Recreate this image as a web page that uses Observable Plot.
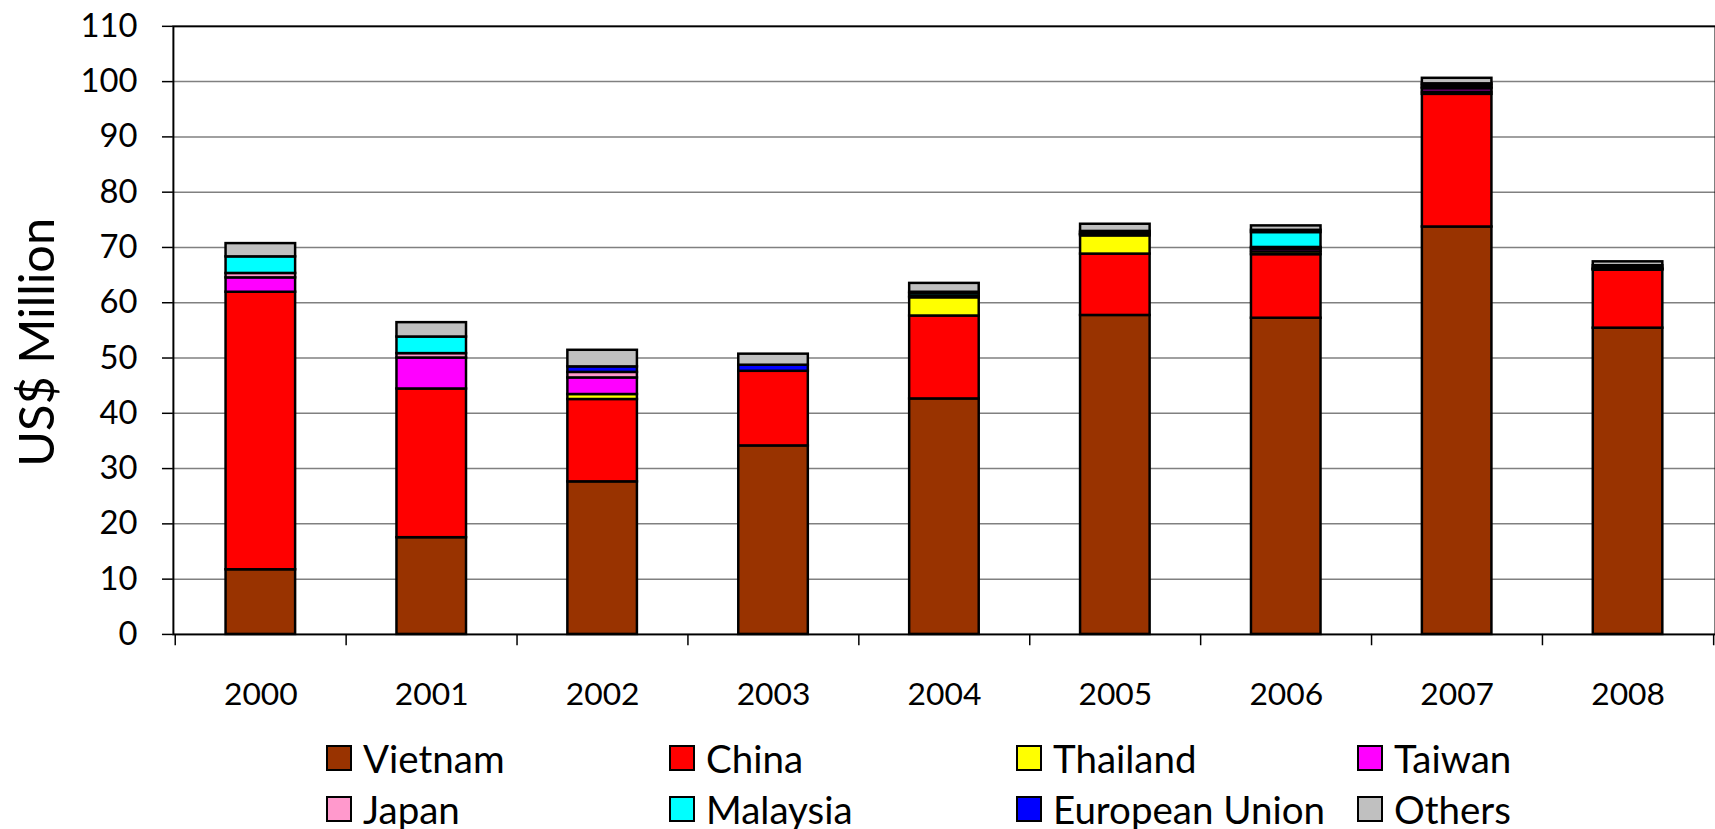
<!DOCTYPE html>
<html>
<head>
<meta charset="utf-8">
<script src="https://cdn.jsdelivr.net/npm/d3@7"></script>
<script src="https://cdn.jsdelivr.net/npm/@observablehq/plot@0.6"></script>
<style>
  html, body { margin: 0; padding: 0; background: #fff; overflow: hidden; width: 1715px; height: 829px; }
  #wrap { position: relative; width: 1715px; height: 829px; font-family: Lato, "Open Sans", sans-serif; }
  #chart { position: absolute; left: 0; top: 0; }
  .leg { position: absolute; display: flex; align-items: center; font-size: 38.5px; color: #000; white-space: nowrap; }
  .sw { width: 22px; height: 22px; border: 2px solid #000; margin-right: 11px; box-sizing: content-box; }
</style>
</head>
<body>
<div id="wrap"><div id="chart"></div></div>
<script>
const years = ["2000","2001","2002","2003","2004","2005","2006","2007","2008"];
const countries = ["Vietnam","China","Thailand","Taiwan","Japan","Malaysia","European Union","Others"];
const colors = ["#993300","#FF0000","#FFFF00","#FF00FF","#FF99CC","#00FFFF","#0000FF","#C0C0C0"];
const vietnam  = [11.7, 17.5, 27.6, 34.1, 42.6, 57.7, 57.2, 73.7, 55.4];
const china    = [50.2, 26.9, 14.9, 13.5, 15.0, 11.1, 11.5, 24.0, 10.5];
const thailand = [0.0, 0.0, 0.9, 0.0, 3.3, 3.3, 0.5, 0.4, 0.1];
const taiwan   = [2.6, 5.6, 3.0, 0.0, 0.0, 0.2, 0.5, 0.6, 0.0];
const japan    = [0.8, 0.8, 1.0, 0.0, 0.2, 0.1, 0.3, 0.2, 0.1];
const malaysia = [3.0, 3.0, 0.0, 0.0, 0.5, 0.2, 2.7, 0.4, 0.2];
const eu       = [0.0, 0.0, 1.0, 1.1, 0.3, 0.3, 0.4, 0.3, 0.4];
const others   = [2.4, 2.6, 3.0, 2.0, 1.6, 1.3, 0.8, 1.0, 0.7];
const yTicks = [0,10,20,30,40,50,60,70,80,90,100,110];

const series = [vietnam, china, thailand, taiwan, japan, malaysia, eu, others];
const data = [];
years.forEach((yr, i) => {
  countries.forEach((c, j) => {
    data.push({year: yr, country: c, value: series[j][i]});
  });
});
const shown = data.filter(d => d.value > 0);

const chart = Plot.plot({
  width: 1726,
  height: 720,
  marginLeft: 174,
  marginRight: 0,
  marginTop: 26,
  marginBottom: 82,
  style: {fontFamily: "Lato, 'Open Sans', sans-serif", background: "white", overflow: "visible"},
  x: {domain: years, paddingInner: 0.594, paddingOuter: 0.297, axis: null, label: null},
  y: {domain: [0, 110], axis: null, label: null},
  color: {domain: countries, range: colors},
  marks: [
    Plot.ruleY(yTicks.filter(t => t > 0 && t < 110), {stroke: "#808080", strokeWidth: 1.5}),
    Plot.barY(shown, Plot.stackY({x: "year", y: "value", fill: "country", z: "country", stroke: "#000", strokeWidth: 2.5})),
    Plot.frame({stroke: "#000", strokeWidth: 2}),
    Plot.axisY({ticks: yTicks, label: null, tickSize: 11, tickPadding: 25, fontSize: 33, tickFormat: d => String(d), stroke: "#000", strokeWidth: 1.5}),
    Plot.ruleX(years, {x: d => d, dx: -86.15, y1: 0, y2: -2.05, stroke: "#000", strokeWidth: 1.5}),
    Plot.ruleX(["2008"], {x: d => d, dx: 86.15, y1: 0, y2: -2.05, stroke: "#000", strokeWidth: 1.5}),
    Plot.axisX({label: null, tickSize: 0, tickPadding: 48, fontSize: 32}),
    Plot.text(["US$ Million"], {frameAnchor: "left", dx: -136, dy: 12, rotate: -90, fontSize: 49, fill: "#000", textAnchor: "middle", lineAnchor: "middle"})
  ]
});
document.getElementById("chart").appendChild(chart);

// legend
const wrap = document.getElementById("wrap");
const colX = [326, 669, 1016, 1357];
const rowY = [758, 809];
countries.forEach((c, i) => {
  const el = document.createElement("div");
  el.className = "leg";
  el.style.left = colX[i % 4] + "px";
  el.style.top = (rowY[Math.floor(i / 4)] - 24) + "px";
  el.style.height = "48px";
  const sw = document.createElement("span");
  sw.className = "sw";
  sw.style.background = colors[i];
  el.appendChild(sw);
  const t = document.createElement("span");
  t.textContent = c;
  el.appendChild(t);
  wrap.appendChild(el);
});
</script>
</body>
</html>
